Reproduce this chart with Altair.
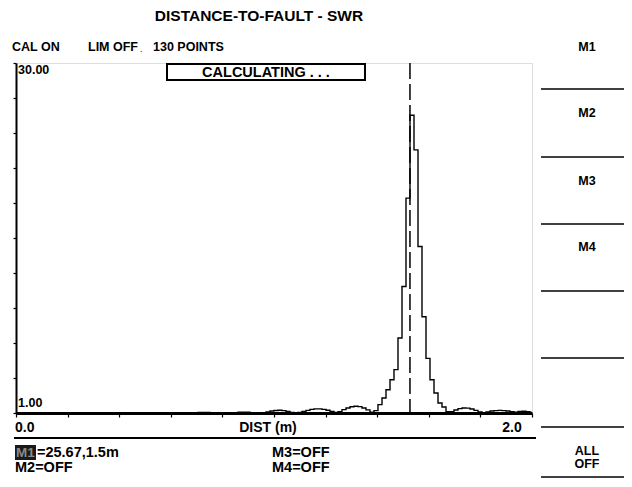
import altair as alt
import pandas as pd

# ---------------- data ----------------
n_points = 130
dist_max = 2.0
swr = [
    1.0, 1.0, 1.01, 1.0, 1.0, 1.01, 1.0, 1.0, 1.01, 1.0, 1.0, 1.0,
    1.01, 1.0, 1.0, 1.01, 1.0, 1.0, 1.0, 1.01, 1.0, 1.0, 1.01, 1.0,
    1.0, 1.0, 1.01, 1.0, 1.0, 1.01, 1.0, 1.0, 1.0, 1.01, 1.0, 1.0,
    1.0, 1.01, 1.02, 1.03, 1.03, 1.02, 1.01, 1.0, 1.0,
    1.02, 1.04, 1.05, 1.04, 1.02,
    1.0, 1.0, 1.01, 1.01, 1.0,
    1.03, 1.06, 1.07, 1.06, 1.03,
    1.0, 1.0, 1.02,
    1.08, 1.16, 1.21, 1.23, 1.2, 1.13, 1.05,
    1.0, 1.05,
    1.12, 1.22, 1.3, 1.34, 1.34, 1.3, 1.23, 1.13, 1.04,
    1.1, 1.28, 1.42, 1.52, 1.56, 1.53, 1.42, 1.26, 1.06,
    1.2, 1.69, 2.24, 2.93, 3.76, 4.59, 7.21, 11.48, 18.8, 25.67,
    22.8, 14.8, 8.98, 5.53, 3.76, 2.66, 1.83, 1.5, 1.1,
    1.1, 1.25, 1.36, 1.41, 1.4, 1.33, 1.22, 1.08,
    1.02,
    1.08, 1.16, 1.2, 1.22, 1.2, 1.16, 1.1, 1.06, 1.12,
    1.15, 1.1, 1.05,
]
dist = [i * dist_max / (n_points - 1) for i in range(n_points)]
marker_dist = [1.527]
y_ticks = [1 + 2.9 * k for k in range(11)]
x_ticks = [round(0.2 * k, 1) for k in range(11)]

title_text = "DISTANCE-TO-FAULT - SWR"
status_texts = ["CAL ON", "LIM OFF", ".", "130 POINTS"]
softkey_texts = ["M1", "M2", "M3", "M4", "ALL", "OFF"]
marker_texts = ["M1", "=25.67,1.5m", "M3=OFF", "M2=OFF", "M4=OFF"]
axis_texts = ["30.00", "1.00", "0.0", "DIST (m)", "2.0"]
busy_text = "CALCULATING . . ."

FONT = "Liberation Sans, Arial, Helvetica, sans-serif"

trace_df = pd.DataFrame({"dist": dist, "swr": swr})
marker_df = pd.DataFrame({"dist": marker_dist})
dummy = pd.DataFrame({"d": [0]})

xscale = alt.Scale(domain=[0, dist_max], nice=False, zero=False)
yscale = alt.Scale(domain=[1, 30], nice=False, zero=False)

trace = alt.Chart(trace_df).mark_line(
    interpolate="step", color="black", strokeWidth=1.4
).encode(
    x=alt.X("dist:Q", scale=xscale,
            axis=alt.Axis(values=x_ticks, labels=False, title=None, grid=False,
                          tickSize=4, tickColor="black", domainColor="black",
                          domainWidth=3, tickWidth=1.2)),
    y=alt.Y("swr:Q", scale=yscale,
            axis=alt.Axis(values=y_ticks, labels=False, title=None, grid=False,
                          tickSize=3, tickColor="black", domainColor="black",
                          domainWidth=2, tickWidth=1.2)),
)

marker = alt.Chart(marker_df).mark_rule(
    color="black", strokeWidth=1.5, strokeDash=[16, 5]
).encode(x=alt.X("dist:Q", scale=xscale))


def label(text, x, y, align="left", size=12.5, color="black", weight="bold"):
    return alt.Chart().mark_text(
        text=text, align=align, baseline="middle", font=FONT, fontSize=size,
        fontWeight=weight, color=color
    ).encode(x=alt.value(x), y=alt.value(y))


def hline(x1, x2, y, w=1.5):
    return alt.Chart().mark_rule(color="black", strokeWidth=w).encode(
        x=alt.value(x1), x2=alt.value(x2), y=alt.value(y))


layers = [trace, marker]

# busy box
layers.append(alt.Chart().mark_rect(fill="white", stroke="black", strokeWidth=2).encode(
    x=alt.value(151), x2=alt.value(349), y=alt.value(1), y2=alt.value(17)))
layers.append(label(busy_text, 250, 9.5, align="center", size=14.5))

# header
layers.append(label(title_text, 243, -47, align="center", size=15.5))
layers.append(label(status_texts[0], -4, -16))
layers.append(label(status_texts[1], 72, -16))
layers.append(label(status_texts[2], 124, -14, size=9, weight="normal"))
layers.append(label(status_texts[3], 137, -16))

# axis texts
layers.append(label(axis_texts[0], 2, 7))
layers.append(label(axis_texts[1], 2, 340))
layers.append(label(axis_texts[2], -1, 365, size=14))
layers.append(label(axis_texts[3], 252, 365, align="center", size=14))
layers.append(label(axis_texts[4], 496, 365, align="center", size=14))
layers.append(hline(-2, 520, 375, 2))

# marker readouts
layers.append(alt.Chart().mark_rect(fill="#1a1a1a").encode(
    x=alt.value(-1), x2=alt.value(20), y=alt.value(382), y2=alt.value(397)))
layers.append(label(marker_texts[0], 0, 389.5, color="#8a8a8a", size=13.5))
layers.append(label(marker_texts[1], 21, 389.5, size=14.5))
layers.append(label(marker_texts[2], 256, 389.5, size=14.5))
layers.append(label(marker_texts[3], -1, 405, size=14.5))
layers.append(label(marker_texts[4], 256, 405, size=14.5))

# soft keys
for t, y in zip(softkey_texts, [-16, 50, 118, 184, 388, 401]):
    layers.append(label(t, 571, y, align="center"))
for y in [26, 94, 161, 228, 295, 364, 414]:
    layers.append(hline(525, 608, y, 1.5))

chart = alt.layer(*layers, data=dummy).properties(
    width=516, height=350,
    padding={"left": 8, "top": 55, "right": 92, "bottom": 66},
    autosize=alt.AutoSizeParams(type="none"),
).configure_view(stroke="black", strokeWidth=2).configure(background="white")

chart.save("out.html", embed_options={"renderer": "svg", "actions": False})
